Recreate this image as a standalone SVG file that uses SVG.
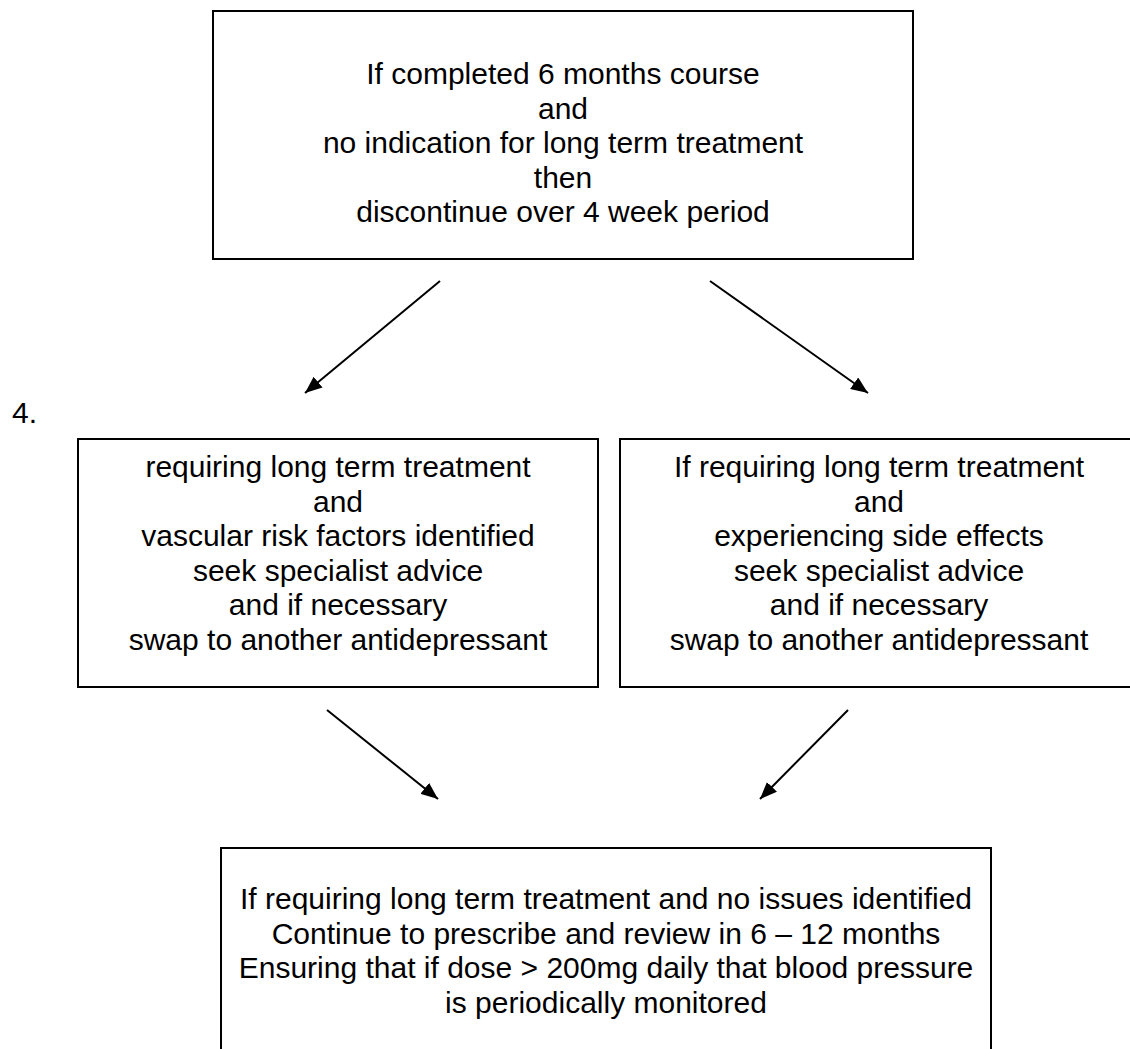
<svg xmlns="http://www.w3.org/2000/svg" width="1130" height="1049" viewBox="0 0 1130 1049">
<style>
.box{fill:#fff;stroke:#000;stroke-width:2}
.t{font-family:"Liberation Sans",Arial,sans-serif;font-size:30px;fill:#000;text-anchor:middle}
.c{stroke:#000;stroke-width:2;fill:none}
</style>
<defs>
<marker id="ah" markerUnits="userSpaceOnUse" markerWidth="20" markerHeight="14" refX="17" refY="7" orient="auto">
<path d="M0,0 L17,7 L0,14 Z" fill="#000"/>
</marker>
</defs>
<rect width="1130" height="1049" fill="#fff"/>
<g id="top">
<rect class="box" x="213" y="11" width="700" height="248"/>
<text class="t" x="563" y="84">If completed 6 months course</text>
<text class="t" x="563" y="118.5">and</text>
<text class="t" x="563" y="153">no indication for long term treatment</text>
<text class="t" x="563" y="187.5">then</text>
<text class="t" x="563" y="222">discontinue over 4 week period</text>
</g>
<g id="label4">
<text class="t" x="12" y="423" style="text-anchor:start">4.</text>
</g>
<g id="left">
<rect class="box" x="78" y="439" width="520" height="248"/>
<text class="t" x="338" y="477">requiring long term treatment</text>
<text class="t" x="338" y="511.5">and</text>
<text class="t" x="338" y="546">vascular risk factors identified</text>
<text class="t" x="338" y="580.5">seek specialist advice</text>
<text class="t" x="338" y="615">and if necessary</text>
<text class="t" x="338" y="649.5">swap to another antidepressant</text>
</g>
<g id="right">
<rect class="box" x="620" y="439" width="520" height="248"/>
<text class="t" x="879" y="477">If requiring long term treatment</text>
<text class="t" x="879" y="511.5">and</text>
<text class="t" x="879" y="546">experiencing side effects</text>
<text class="t" x="879" y="580.5">seek specialist advice</text>
<text class="t" x="879" y="615">and if necessary</text>
<text class="t" x="879" y="649.5">swap to another antidepressant</text>
</g>
<g id="bottom">
<rect class="box" x="221" y="848" width="770" height="220"/>
<text class="t" x="606" y="909">If requiring long term treatment and no issues identified</text>
<text class="t" x="606" y="943.5">Continue to prescribe and review in 6 – 12 months</text>
<text class="t" x="606" y="978">Ensuring that if dose &gt; 200mg daily that blood pressure</text>
<text class="t" x="606" y="1012.5">is periodically monitored</text>
</g>
<g id="connectors">
<line class="c" x1="440" y1="281" x2="305" y2="393" marker-end="url(#ah)"/>
<line class="c" x1="710" y1="281" x2="868" y2="393" marker-end="url(#ah)"/>
<line class="c" x1="327" y1="710" x2="438" y2="799" marker-end="url(#ah)"/>
<line class="c" x1="848" y1="710" x2="760" y2="799" marker-end="url(#ah)"/>
</g>
</svg>
